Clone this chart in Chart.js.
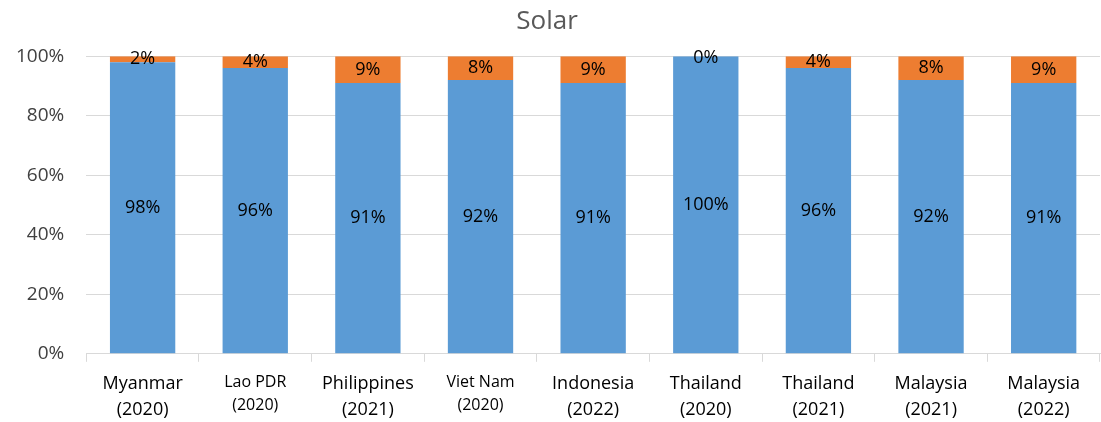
<!DOCTYPE html>
<html>
<head>
<meta charset="utf-8">
<script src="https://cdn.jsdelivr.net/npm/chart.js@4/dist/chart.umd.min.js"></script>
<style>
  html,body{margin:0;padding:0;background:#fff;}
  #wrap{width:1101px;height:422px;}
</style>
</head>
<body>
<div id="wrap"><canvas id="c"></canvas></div>
<script>
const countries=['Myanmar','Lao PDR','Philippines','Viet Nam','Indonesia','Thailand','Thailand','Malaysia','Malaysia'];
const years=['(2020)','(2020)','(2021)','(2020)','(2022)','(2020)','(2021)','(2021)','(2022)'];
const smallLabels=[1,3]; // Lao PDR, Viet Nam are set smaller in the source
const blueShare=[98,96,91,92,91,100,96,92,91];
const orangeShare=[2,4,9,8,9,0,4,8,9];
const yTicks=[0,20,40,60,80,100];

const FONT='"Open Sans", sans-serif';

// labels in the middle of each segment
const segLabels={
  id:'segLabels',
  afterDatasetsDraw(chart){
    const ctx=chart.ctx, top=chart.chartArea.top;
    ctx.save();
    ctx.font='18px '+FONT;
    ctx.fillStyle='#000';
    ctx.textAlign='center'; ctx.textBaseline='middle';
    chart.data.datasets.forEach((ds,i)=>{
      chart.getDatasetMeta(i).data.forEach((bar,j)=>{
        let y=(bar.y+bar.base)/2;
        if(y<top+2) y=top+2;
        ctx.fillText(ds.data[j]+'%',bar.x,y);
      });
    });
    ctx.restore();
  }
};

new Chart(document.getElementById('c'),{
  type:'bar',
  data:{
    labels:countries.map((c,i)=>[c,years[i]]),
    datasets:[
      {label:'a',data:blueShare,backgroundColor:'#5B9BD5',barPercentage:0.58,categoryPercentage:1},
      {label:'b',data:orangeShare,backgroundColor:'#ED7D31',barPercentage:0.58,categoryPercentage:1}
    ]
  },
  options:{
    responsive:true,maintainAspectRatio:false,animation:false,
    layout:{padding:{left:-6,right:1,top:6,bottom:-10}},
    plugins:{
      legend:{display:false},
      tooltip:{enabled:false},
      title:{display:true,text:'Solar',color:'#595959',font:{family:FONT,size:26,weight:'normal'},padding:{top:0,bottom:19}}
    },
    scales:{
      x:{
        stacked:true,
        grid:{offset:true,drawOnChartArea:false,color:'#D9D9D9',tickLength:8},
        border:{color:'#D9D9D9'},
        ticks:{color:'#000',maxRotation:0,autoSkip:false,padding:9,
          font:(c)=>({family:FONT,size:smallLabels.includes(c.index)?16:18,lineHeight:1.45})}
      },
      y:{
        stacked:true,min:0,max:100,
        afterBuildTicks:(s)=>{s.ticks=yTicks.map(v=>({value:v}));},
        grid:{color:'#D9D9D9',drawTicks:false},
        border:{display:false},
        ticks:{color:'#404040',padding:22,font:{family:FONT,size:19},callback:v=>v+'%'}
      }
    }
  },
  plugins:[segLabels]
});
</script>
</body>
</html>
